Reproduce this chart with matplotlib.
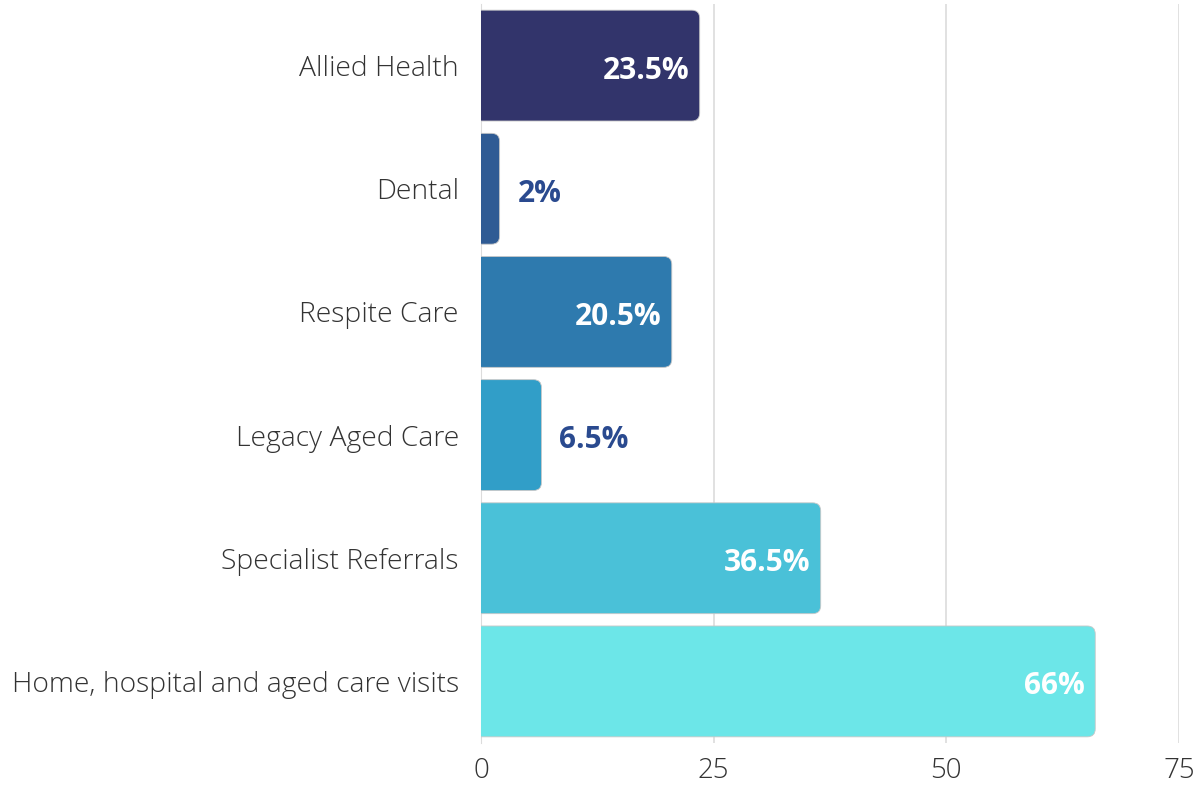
import numpy as np
import matplotlib.pyplot as plt
from matplotlib.patches import FancyBboxPatch

categories = ['Allied Health', 'Dental', 'Respite Care', 'Legacy Aged Care',
              'Specialist Referrals', 'Home, hospital and aged care visits']
values = [23.5, 2, 20.5, 6.5, 36.5, 66]
labels = ['23.5%', '2%', '20.5%', '6.5%', '36.5%', '66%']
colors = ['#32346b', '#2f5b94', '#2e7aae', '#319ec8', '#4ac1d8', '#6ce6e8']
xticks = [0, 25, 50, 75]

plt.rcParams['font.family'] = ['Open Sans', 'DejaVu Sans']

fig = plt.figure(figsize=(12.03, 7.85), dpi=100)
ax = fig.add_axes([481 / 1203, 42 / 785, (1179 - 481) / 1203, 739 / 785])

y = np.arange(len(categories))
bars = ax.barh(y, values, height=0.9, color='none')
ax.set_xlim(0, 75)
ax.set_ylim(len(categories) - 0.5, -0.5)

# rounded right ends, left end clipped by the axis
px_x = ax.bbox.width / 75
px_y = ax.bbox.height / len(categories)
r = 8 / px_x
for b, c in zip(bars, colors):
    b.set_visible(False)
    p = FancyBboxPatch((b.get_x() - r, b.get_y()), b.get_width() + r, b.get_height(),
                       boxstyle=f'round,pad=0,rounding_size={r}',
                       mutation_aspect=px_x / px_y,
                       facecolor=c, edgecolor='#c8c8c8', linewidth=0.6, zorder=3)
    ax.add_patch(p)

for yi, v, lab in zip(y, values, labels):
    if v > 10:
        ax.text(v - 10 / px_x, yi + 5 / px_y, lab, ha='right', va='center', color='white',
                fontsize=21.5, fontweight='bold', zorder=4)
    else:
        ax.text(v + 18 / px_x, yi + 5 / px_y, lab, ha='left', va='center', color='#2a4a8f',
                fontsize=21.5, fontweight='bold', zorder=4)

ax.set_yticks(y)
ax.set_yticklabels(categories, fontsize=20.3, color='#333333', fontweight='light')
ax.set_xticks(xticks)
ax.set_xticklabels([str(t) for t in xticks], fontsize=20, color='#333333', fontweight='light')
ax.tick_params(length=0)
ax.tick_params(axis='y', pad=16)
ax.tick_params(axis='x', pad=10)
ax.grid(axis='x', color='#dcdcdc', linewidth=1.2, zorder=0)
ax.set_axisbelow(True)
for s in ['top', 'right', 'bottom']:
    ax.spines[s].set_visible(False)
ax.spines['left'].set_color('#dcdcdc')

fig.savefig('out.png', dpi=100, facecolor='white')
